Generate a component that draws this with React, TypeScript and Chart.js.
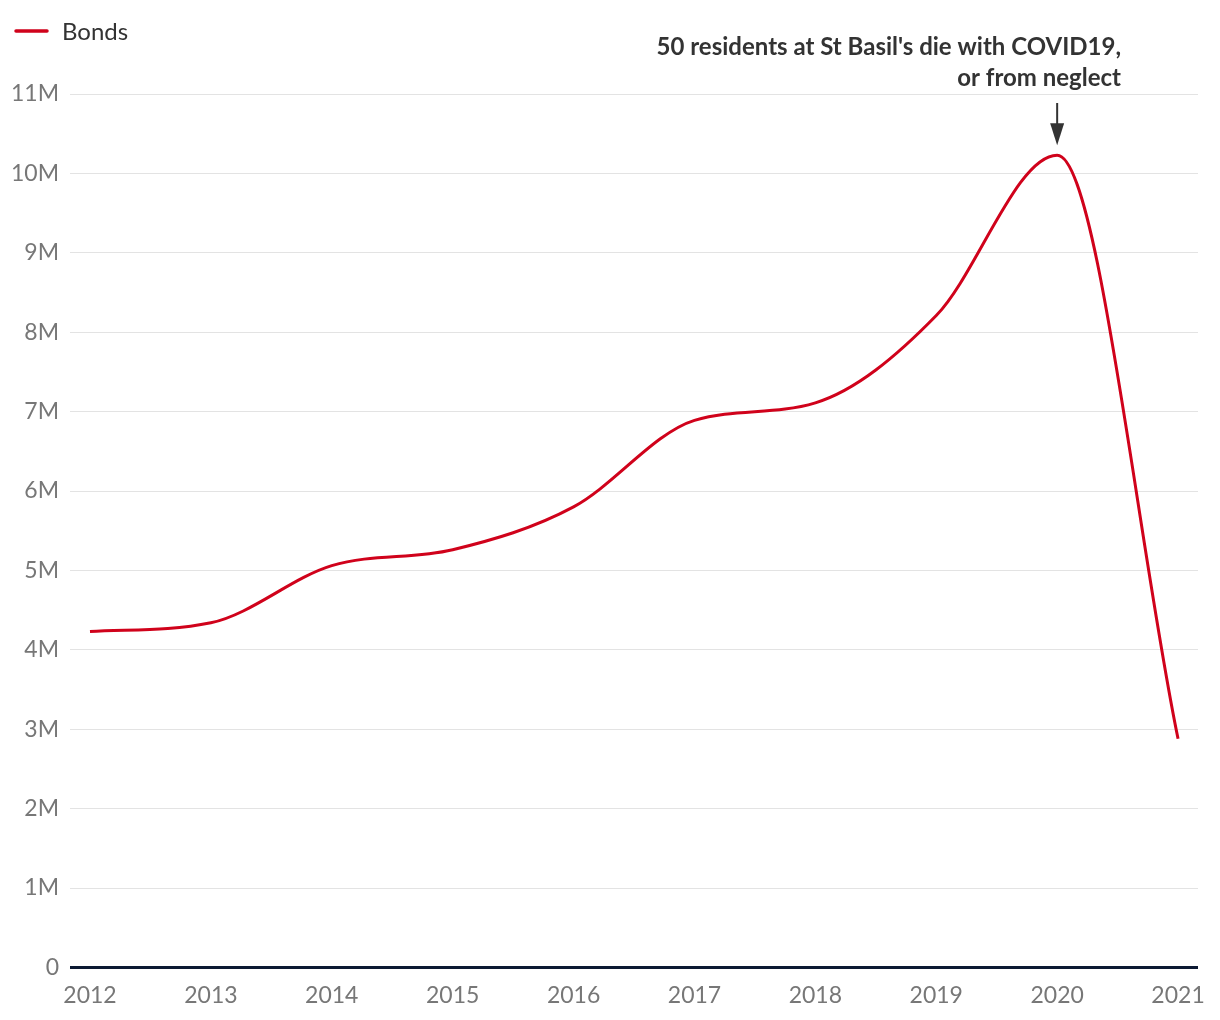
import React, { useEffect, useRef } from "react";
import { Chart, registerables } from "chart.js";

Chart.register(...registerables);

const years = [2012, 2013, 2014, 2015, 2016, 2017, 2018, 2019, 2020, 2021];
const bonds = [4.23e6, 4.34e6, 5.06e6, 5.26e6, 5.8e6, 6.89e6, 7.11e6, 8.21e6, 10.23e6, 2.88e6];
const seriesLabel = "Bonds";
const annotationLines = ["50 residents at St Basil's die with COVID19,", "or from neglect"];
const annotationYear = 2020;

const RED = "#d0021b";

const overlayPlugin = {
  id: "overlay",
  afterDraw(chart: any) {
    const ctx = chart.ctx;
    ctx.save();
    // legend
    ctx.strokeStyle = RED;
    ctx.lineWidth = 3.5;
    ctx.lineCap = "round";
    ctx.beginPath();
    ctx.moveTo(16, 31);
    ctx.lineTo(47, 31);
    ctx.stroke();
    ctx.fillStyle = "#333333";
    ctx.font = "24px Lato";
    ctx.textBaseline = "middle";
    ctx.textAlign = "left";
    ctx.fillText(seriesLabel, 62, 32);

    // annotation
    const xs = chart.scales.x;
    const ys = chart.scales.y;
    const idx = years.indexOf(annotationYear);
    const px = xs.getPixelForValue(annotationYear);
    const py = ys.getPixelForValue(bonds[idx]);
    ctx.font = "bold 24px Lato";
    ctx.textAlign = "right";
    ctx.textBaseline = "alphabetic";
    ctx.fillStyle = "#333333";
    ctx.fillText(annotationLines[0], 1121, 55);
    ctx.fillText(annotationLines[1], 1121, 86);
    ctx.strokeStyle = "#333333";
    ctx.fillStyle = "#333333";
    ctx.lineWidth = 2;
    ctx.lineCap = "butt";
    ctx.beginPath();
    ctx.moveTo(px, 103);
    ctx.lineTo(px, py - 24);
    ctx.stroke();
    ctx.beginPath();
    ctx.moveTo(px - 7, py - 32);
    ctx.lineTo(px + 7, py - 32);
    ctx.lineTo(px, py - 10);
    ctx.closePath();
    ctx.fill();
    ctx.restore();
  },
};

export default function App() {
  const ref = useRef<HTMLCanvasElement>(null);
  useEffect(() => {
    document.body.style.margin = "0";
    const chart = new Chart(ref.current!, {
      type: "line",
      data: {
        datasets: [
          {
            label: seriesLabel,
            data: years.map((y, i) => ({ x: y, y: bonds[i] })),
            borderColor: RED,
            backgroundColor: RED,
            borderWidth: 3,
            pointRadius: 0,
            cubicInterpolationMode: "monotone",
            fill: false,
          },
        ],
      },
      options: {
        animation: false,
        responsive: false,
        layout: { padding: { top: 94, right: 22, bottom: 5, left: 0 } },
        plugins: { legend: { display: false }, tooltip: { enabled: false } },
        scales: {
          x: {
            type: "linear",
            min: 2011.835,
            max: 2021.165,
            grid: { display: false },
            border: { display: false },
            afterBuildTicks: (axis: any) => {
              axis.ticks = years.map((v) => ({ value: v }));
            },
            ticks: {
              autoSkip: false,
              maxRotation: 0,
              padding: 6,
              color: "#777777",
              font: { family: "Lato", size: 23 },
              callback: (v: any) => String(v),
            },
          },
          y: {
            min: 0,
            max: 11e6,
            border: { display: false },
            grid: {
              drawTicks: false,
              color: (c: any) => (c.tick && c.tick.value === 0 ? "#0c1a33" : "#e3e3e3"),
              lineWidth: (c: any) => (c.tick && c.tick.value === 0 ? 3 : 1),
            },
            ticks: {
              stepSize: 1e6,
              padding: 11,
              color: "#777777",
              font: { family: "Lato", size: 23 },
              callback: (v: any) => (v === 0 ? "0" : v / 1e6 + "M"),
            },
          },
        },
      },
      plugins: [overlayPlugin],
    } as any);
    return () => chart.destroy();
  }, []);
  return (
    <div style={{ width: 1220, height: 1020 }}>
      <canvas ref={ref} width={1220} height={1020} style={{ display: "block" }} />
    </div>
  );
}
